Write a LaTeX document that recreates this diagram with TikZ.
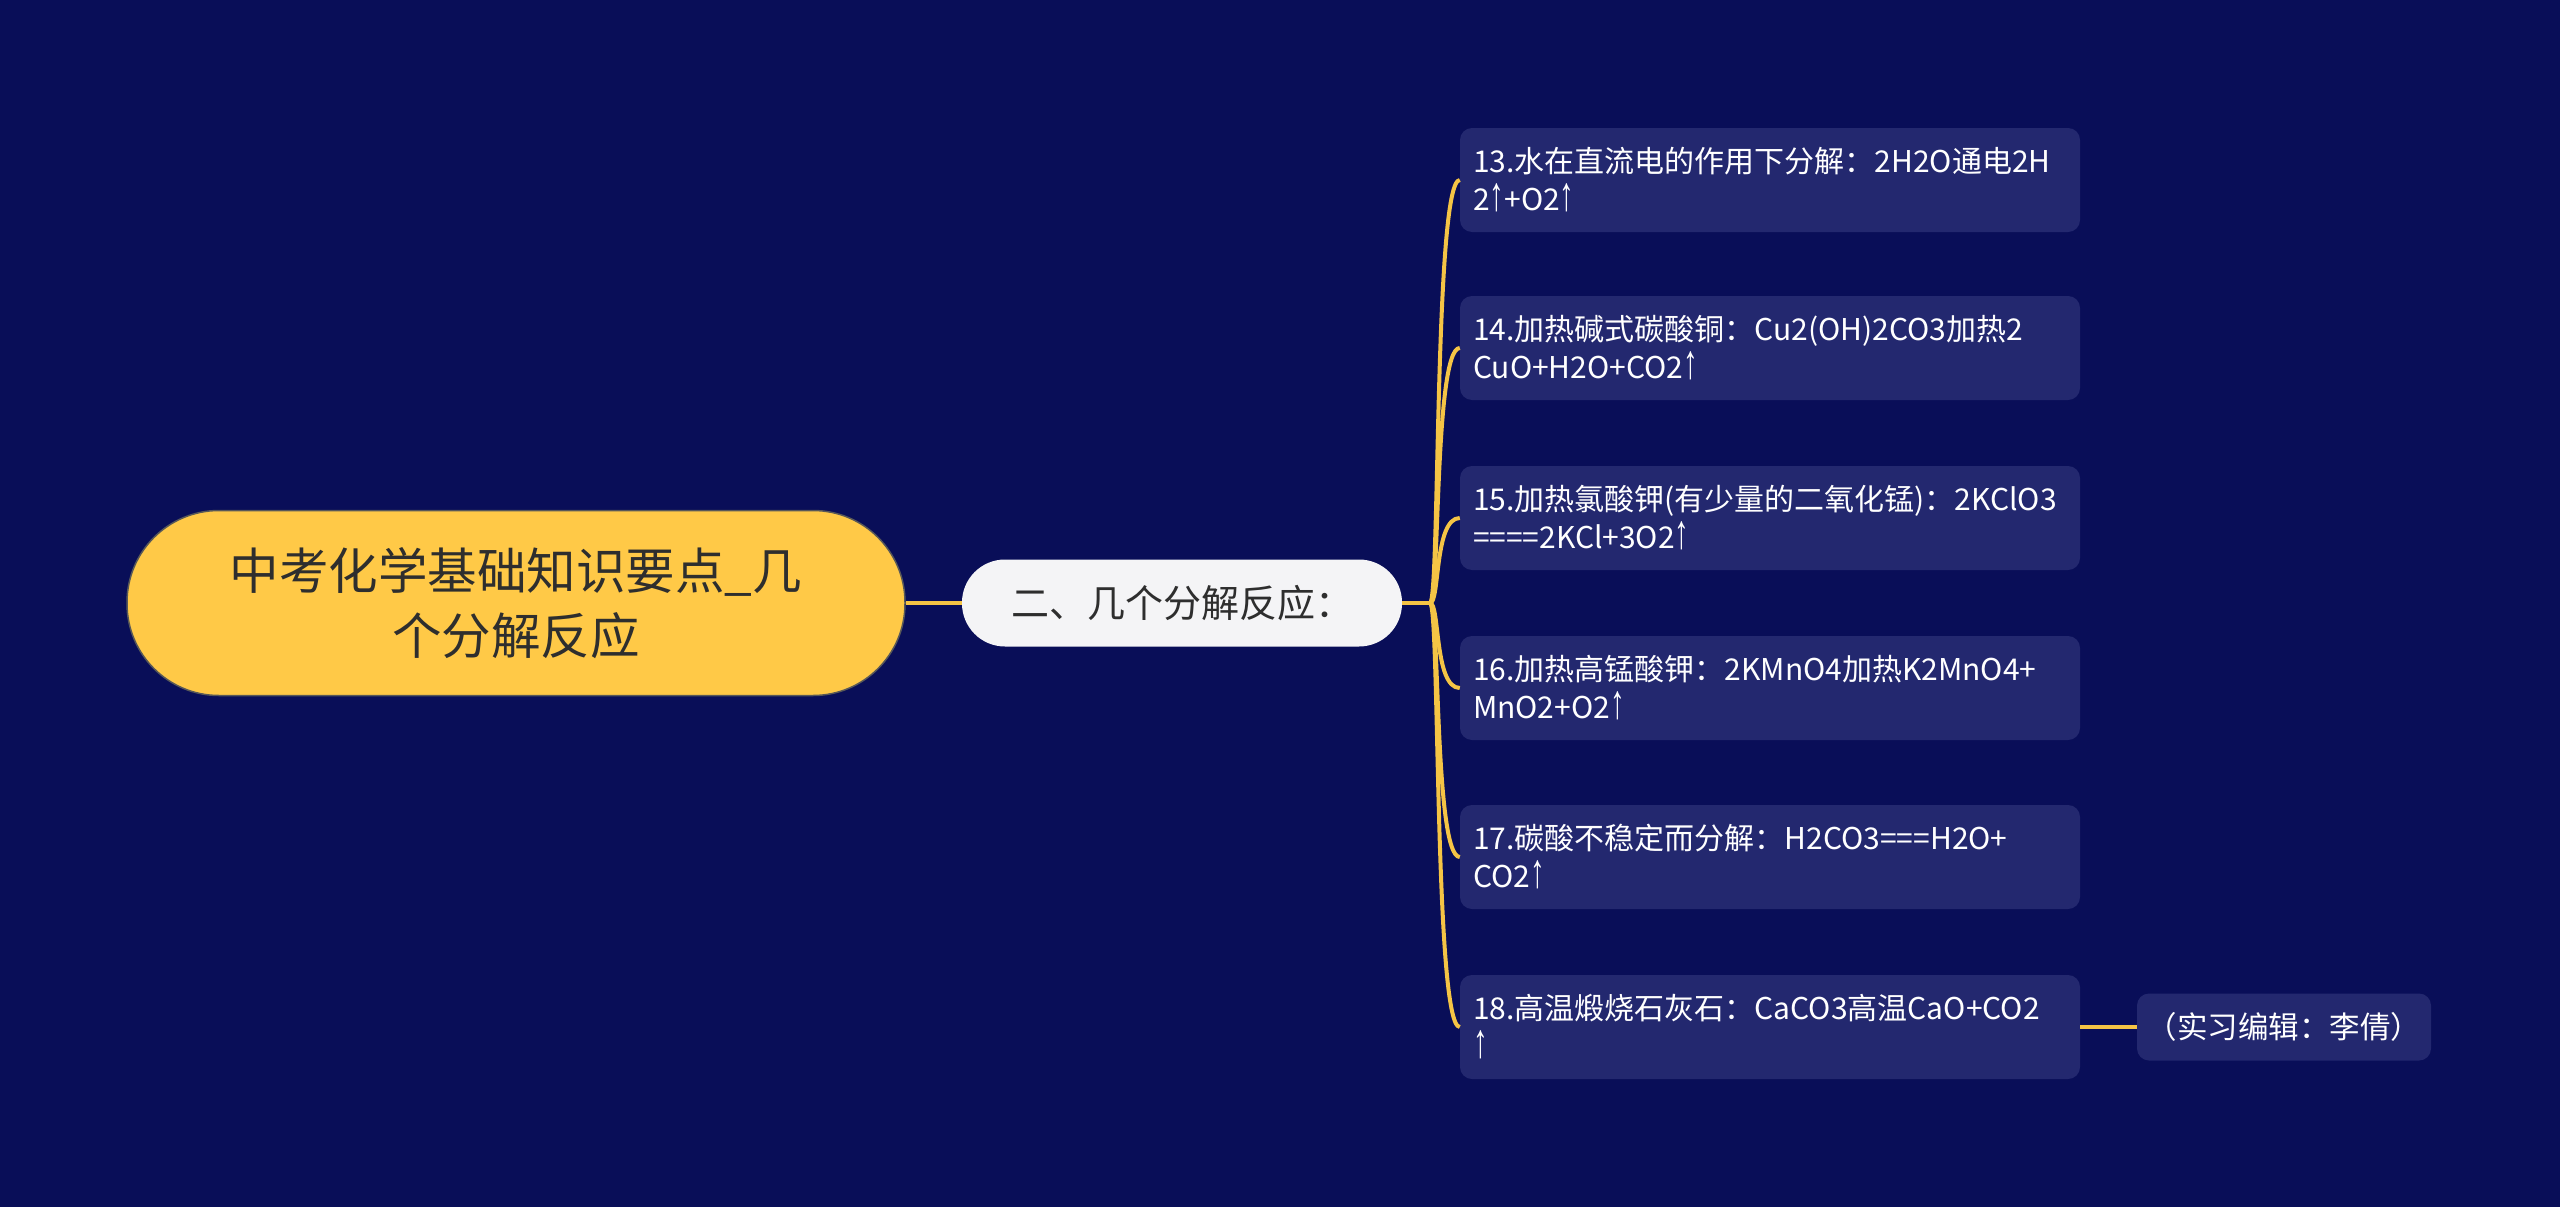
\documentclass[tikz,border=0pt]{standalone}
\usepackage{fontspec}
\setmainfont{Noto Sans CJK SC}
\newfontfamily\arrfont{Liberation Sans}
\newcommand{\upar}{{\arrfont\fontsize{31}{38}\selectfont\scalebox{0.95}[1.55]{↑}}}
\definecolor{bgc}{HTML}{090E58}
\definecolor{leafc}{HTML}{23286F}
\definecolor{yel}{HTML}{FFC947}
\definecolor{lin}{HTML}{F5C445}
\definecolor{darktxt}{HTML}{2E2E2E}
\definecolor{pale}{HTML}{F4F4F6}
\tikzset{
  rootbox/.style={draw=darktxt!80, line width=1.5pt, fill=yel, rounded corners=92pt,
    minimum width=778pt, minimum height=185pt, align=center, text=darktxt,
    font=\fontsize{49.5}{65}\selectfont, inner sep=0pt},
  subbox/.style={fill=pale, rounded corners=43pt, minimum width=440pt, minimum height=87pt,
    align=center, text=darktxt, font=\fontsize{38}{44}\selectfont, inner sep=0pt},
  leafbox/.style={fill=leafc, rounded corners=12pt, text width=594pt, inner xsep=13pt,
    minimum height=104pt, align=left, text=white, font=\fontsize{30}{38}\selectfont},
  notebox/.style={fill=leafc, rounded corners=12pt, minimum width=294pt, minimum height=67pt,
    align=center, text=white, font=\fontsize{30.5}{36}\selectfont, inner sep=0pt},
  conn/.style={draw=lin, line width=4pt},
}
\begin{document}
\begin{tikzpicture}[x=1pt,y=-1pt]
\fill[bgc] (0,0) rectangle (2560,1207);
\useasboundingbox (0,0) rectangle (2560,1207);

\node[rootbox] (root) at (516,603) {中考化学基础知识要点\_几\\个分解反应};
\node[subbox] (sub) at (1182,603) {二、几个分解反应：};
\coordinate (j) at (1430,603);

\node[leafbox] (l13) at (1770,180) {13.水在直流电的作用下分解：2H2O通电2H\\2\upar+O2\upar};
\node[leafbox] (l14) at (1770,348) {14.加热碱式碳酸铜：Cu2(OH)2CO3加热2\\CuO+H2O+CO2\upar};
\node[leafbox] (l15) at (1770,518) {15.加热氯酸钾(有少量的二氧化锰)：2KClO3\\====2KCl+3O2\upar};
\node[leafbox] (l16) at (1770,688) {16.加热高锰酸钾：2KMnO4加热K2MnO4+\\MnO2+O2\upar};
\node[leafbox] (l17) at (1770,857) {17.碳酸不稳定而分解：H2CO3===H2O+\\CO2\upar};
\node[leafbox] (l18) at (1770,1027) {18.高温煅烧石灰石：CaCO3高温CaO+CO2\\\upar};
\node[notebox] (note) at (2284,1027) {（实习编辑：李倩）};

\draw[conn] (root.east) -- (sub.west);
\draw[conn] (sub.east) -- (j);
\foreach \n/\y in {l13/180,l14/348,l15/518,l16/688,l17/857,l18/1027}{
  \draw[conn] (j) .. controls (1440,603) and (1434,\y) .. (\n.west);
}
\draw[conn] (l18.east) -- (note.west);
\end{tikzpicture}
\end{document}
